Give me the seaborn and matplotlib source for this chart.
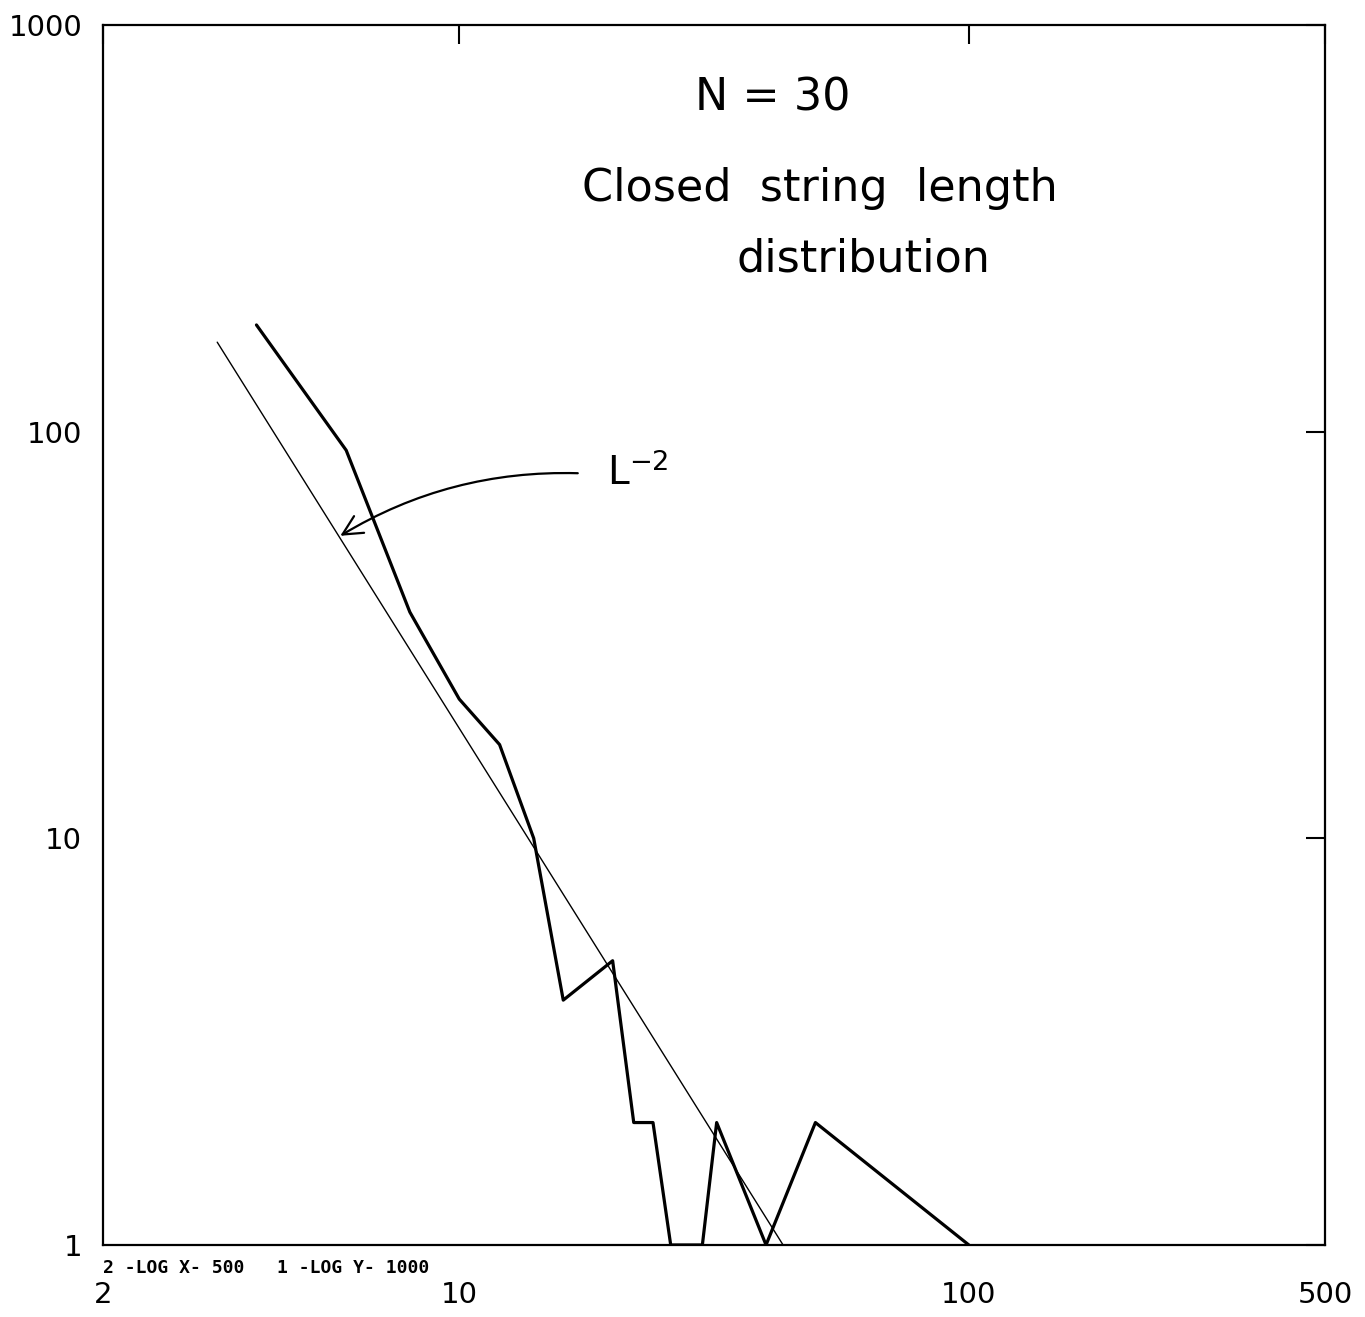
import matplotlib
matplotlib.use('Agg')
import matplotlib.pyplot as plt
import matplotlib.ticker as mticker
import seaborn as sns
import pandas as pd

# closed string length histogram
lengths = [4, 6, 8, 10, 12, 14, 16, 20, 22, 24, 26, 30, 32, 40, 50, 100]
counts = [183, 90, 36, 22, 17, 10, 4, 5, 2, 2, 1, 1, 2, 1, 2, 1]

# L^-2 reference line (end points)
fit_lengths = [3.35, 43.2]
fit_counts = [166, 1.0]

x_ticks = [2, 10, 100, 500]
x_labels = ['2', '10', '100', '500']
y_ticks = [1, 10, 100, 1000]
y_labels = ['1', '10', '100', '1000']

sns.set_style('white')
plt.rcParams['font.family'] = ['DejaVu Sans']
plt.rcParams['text.color'] = 'black'
plt.rcParams['xtick.color'] = 'black'
plt.rcParams['ytick.color'] = 'black'

fig = plt.figure(figsize=(13.65, 13.17), dpi=100)
ax = fig.add_axes([0.0755, 0.0547, 0.8952, 0.9263])
ax.set_xscale('log')
ax.set_yscale('log')

df = pd.DataFrame({'L': lengths, 'n': counts})
fit = pd.DataFrame({'L': fit_lengths, 'n': fit_counts})

sns.lineplot(data=df, x='L', y='n', estimator=None, sort=False,
             color='black', linewidth=2.3, ax=ax)
sns.lineplot(data=fit, x='L', y='n', estimator=None, sort=False,
             color='black', linewidth=1.0, ax=ax)

ax.set_xlim(2, 500)
ax.set_ylim(1, 1000)

ax.set_xticks(x_ticks)
ax.set_xticklabels(x_labels)
ax.set_yticks(y_ticks)
ax.set_yticklabels(y_labels)
ax.xaxis.set_minor_locator(mticker.NullLocator())
ax.yaxis.set_minor_locator(mticker.NullLocator())
ax.tick_params(which='major', direction='in', length=14, width=1.5,
               top=True, right=True, labelsize=21, color='black',
               labelcolor='black')
ax.tick_params(axis='x', pad=26)
ax.tick_params(axis='y', pad=15)
ax.set_xlabel('')
ax.set_ylabel('')

for s in ax.spines.values():
    s.set_visible(True)
    s.set_linewidth(1.6)
    s.set_color('black')

# handwritten notes
ax.text(0.548, 0.94, 'N = 30', transform=ax.transAxes, fontsize=32,
        ha='center', va='center', color='black')
ax.text(0.587, 0.866, 'Closed  string  length', transform=ax.transAxes,
        fontsize=32, ha='center', va='center', color='black')
ax.text(0.622, 0.808, 'distribution', transform=ax.transAxes,
        fontsize=32, ha='center', va='center', color='black')

ax.annotate('', xy=(5.78, 55), xytext=(17.3, 79),
            arrowprops=dict(arrowstyle='->,head_length=0.7,head_width=0.35',
                            color='black', lw=1.6, mutation_scale=20,
                            connectionstyle='arc3,rad=0.15'))
ax.text(19.5, 79, r'$\mathrm{L}^{-2}$', fontsize=28, ha='left',
        va='center', color='black')

# plotter footer
fig.text(0.0755, 0.0375, '2 -LOG X- 500   1 -LOG Y- 1000',
         family='DejaVu Sans Mono', fontsize=13, fontweight='bold',
         ha='left', va='center', color='black')

fig.savefig('out.png', dpi=100, facecolor='white')
